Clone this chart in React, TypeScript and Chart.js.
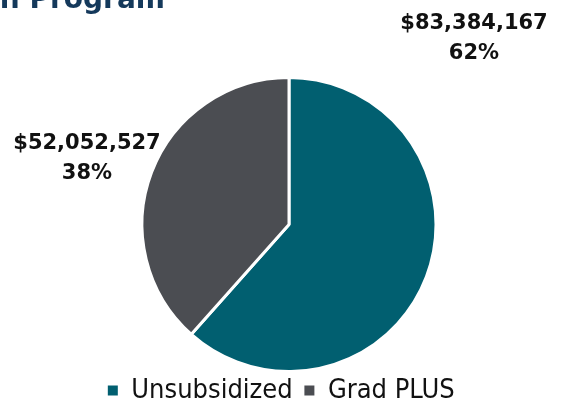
import React, { useEffect, useRef } from "react";
import { Chart, registerables } from "chart.js";

Chart.register(...registerables);

const categories = ["Unsubsidized", "Grad PLUS"];
const amounts = [83384167, 52052527];
const amountLabels = ["$83,384,167", "$52,052,527"];
const percentLabels = ["62%", "38%"];
const colors = ["#015f70", "#4b4d52"];
const titleText = "Disbursements by Loan Program";

export default function App() {
  const canvasRef = useRef<HTMLCanvasElement | null>(null);

  useEffect(() => {
    document.body.style.margin = "0";
    const ctx = canvasRef.current!.getContext("2d")!;
    const chart = new Chart(ctx, {
      type: "pie",
      data: {
        labels: categories,
        datasets: [
          {
            data: amounts,
            backgroundColor: colors,
            borderColor: "#ffffff",
            borderWidth: 3,
          },
        ],
      },
      options: {
        animation: false,
        responsive: false,
        maintainAspectRatio: false,
        layout: { padding: { top: 76, left: 17, right: 0, bottom: -9 } },
        plugins: {
          tooltip: { enabled: false },
          legend: {
            position: "bottom",
            labels: {
              boxWidth: 10,
              boxHeight: 10,
              color: "#111111",
              font: { family: "DejaVu Sans Condensed", size: 27 },
              padding: 4,
              generateLabels: (c: any) =>
                Chart.overrides.pie.plugins.legend.labels
                  .generateLabels(c)
                  .map((item: any, i: number) => ({
                    ...item,
                    text: i === 0 ? item.text + " " : item.text + "  ",
                    lineWidth: 0,
                    strokeStyle: "transparent",
                  })),
            },
          },
        },
      },
    });
    return () => chart.destroy();
  }, []);

  const labelStyle: React.CSSProperties = {
    position: "absolute",
    fontFamily: "DejaVu Sans",
    fontWeight: "bold",
    fontSize: 21,
    lineHeight: "30px",
    textAlign: "center",
    color: "#111111",
    whiteSpace: "nowrap",
  };

  return (
    <div style={{ position: "relative", width: 561, height: 405, overflow: "hidden", background: "#fff" }}>
      <div
        style={{
          position: "absolute",
          right: 396,
          top: -15,
          fontFamily: "DejaVu Sans",
          fontWeight: "bold",
          fontSize: 28,
          lineHeight: "28px",
          color: "#14395b",
          whiteSpace: "nowrap",
        }}
      >
        {titleText}
      </div>
      <canvas ref={canvasRef} width={561} height={405} style={{ display: "block" }} />
      <div style={{ ...labelStyle, left: 474, top: 7, transform: "translateX(-50%)" }}>
        {amountLabels[0]}
        <br />
        {percentLabels[0]}
      </div>
      <div style={{ ...labelStyle, left: 87, top: 127, transform: "translateX(-50%)" }}>
        {amountLabels[1]}
        <br />
        {percentLabels[1]}
      </div>
    </div>
  );
}
